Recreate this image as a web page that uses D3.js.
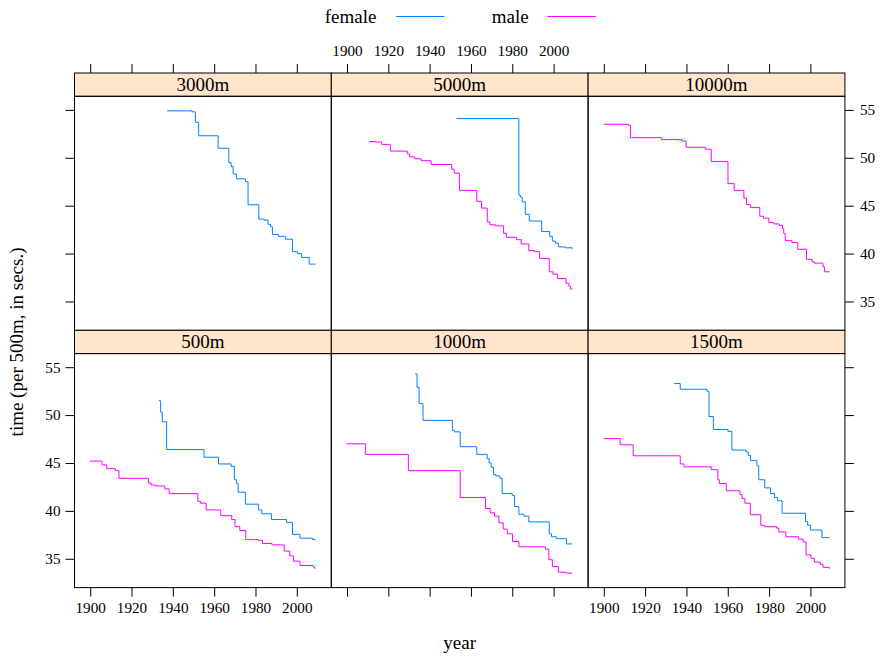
<!DOCTYPE html>
<html>
<head>
<meta charset="utf-8">
<script src="https://cdn.jsdelivr.net/npm/d3@7"></script>
<style>
  body { margin: 0; background: #fff; }
  svg { display: block; }
  text { font-family: "Liberation Serif", "Times New Roman", serif; fill: #000; }
</style>
</head>
<body>
<svg id="chart" width="886" height="658"></svg>
<script>
// Speed skating world records, expressed as time per 500m (seconds)
const distancesTopRow = ["3000m", "5000m", "10000m"];
const distancesBottomRow = ["500m", "1000m", "1500m"];
const genders = ["female", "male"];
const genderColors = ["#0080ff", "#ff00ff"];
const yearTicks = [1900, 1920, 1940, 1960, 1980, 2000];
const timeTicks = [35, 40, 45, 50, 55];

const f500Years = [1933.2, 1934.1, 1934.9, 1937.0, 1955.1, 1962.1, 1968.2, 1969.8, 1970.8, 1971.6, 1975.1, 1981.5, 1983.1, 1987.7, 1995.0, 1997.9, 2001.5, 2007.6, 2009.1];
const f500Times = [51.5, 50.3, 49.3, 46.4, 45.6, 44.9, 44.65, 43.25, 42.85, 41.95, 40.7, 40.1, 39.7, 39.1, 38.8, 37.55, 37.15, 37.0, 37.0];
const m500Years = [1899.9, 1905.7, 1908.0, 1912.2, 1913.9, 1928.2, 1929.5, 1931.6, 1936.1, 1938.2, 1952.1, 1953.4, 1956.1, 1963.2, 1968.5, 1970.1, 1972.4, 1975.3, 1981.6, 1983.4, 1988.0, 1993.9, 1996.6, 1998.4, 2001.5, 2007.9, 2008.7, 2009.1];
const m500Times = [45.2, 44.8, 44.4, 44.2, 43.4, 42.9, 42.7, 42.6, 42.3, 41.8, 41.0, 40.8, 40.1, 39.5, 39.1, 38.35, 37.95, 37.0, 36.9, 36.6, 36.45, 35.8, 35.3, 34.75, 34.3, 34.15, 34.0, 34.0];

const f1000Years = [1933.0, 1933.9, 1934.9, 1936.8, 1951.0, 1952.0, 1954.8, 1962.8, 1967.9, 1968.8, 1969.8, 1970.9, 1972.0, 1974.0, 1975.1, 1980.0, 1981.1, 1983.2, 1985.6, 1988.0, 1997.9, 1999.0, 2001.3, 2006.2, 2009.1];
const f1000Times = [54.3, 52.9, 51.2, 49.45, 48.4, 48.25, 46.7, 45.9, 45.45, 45.0, 44.55, 43.8, 43.65, 43.4, 41.8, 41.6, 40.45, 39.65, 39.45, 38.85, 37.6, 37.3, 37.1, 36.55, 36.55];
const m1000Years = [1899.8, 1908.9, 1929.7, 1954.8, 1967.0, 1969.3, 1971.4, 1973.5, 1975.6, 1977.6, 1980.1, 1983.2, 1996.0, 1997.7, 1999.4, 2002.3, 2006.2, 2009.1];
const m1000Times = [47.0, 45.9, 44.2, 41.4, 40.25, 39.8, 39.45, 38.75, 38.1, 37.6, 36.8, 36.25, 36.0, 34.9, 34.2, 33.6, 33.5, 33.5];

const f1500Years = [1934.1, 1937.0, 1949.9, 1950.9, 1953.0, 1960.1, 1962.0, 1968.8, 1969.9, 1971.0, 1974.1, 1975.0, 1977.9, 1980.7, 1982.6, 1984.1, 1986.3, 1997.6, 1998.7, 2000.0, 2005.6, 2009.2];
const f1500Times = [53.3, 52.7, 52.5, 49.85, 48.5, 48.3, 46.35, 46.15, 45.8, 45.25, 44.7, 43.25, 42.4, 41.8, 41.4, 41.05, 39.75, 38.9, 38.5, 38.0, 37.2, 37.2];
const m1500Years = [1900.0, 1907.9, 1914.2, 1937.0, 1938.8, 1952.0, 1955.2, 1955.9, 1959.3, 1965.9, 1966.9, 1968.3, 1970.9, 1976.0, 1977.8, 1983.6, 1984.7, 1988.1, 1994.2, 1996.5, 1997.9, 2000.3, 2001.9, 2004.8, 2006.1, 2009.2];
const m1500Times = [47.55, 46.9, 45.75, 44.9, 44.6, 44.3, 43.25, 42.85, 42.1, 41.7, 41.3, 40.8, 39.6, 38.5, 38.35, 38.2, 37.8, 37.3, 37.05, 36.75, 35.4, 35.05, 34.65, 34.4, 34.1, 33.95];

const f3000Years = [1937.2, 1949.3, 1950.9, 1952.5, 1961.9, 1967.1, 1968.2, 1969.2, 1970.8, 1975.1, 1976.4, 1981.6, 1984.2, 1986.1, 1987.3, 1988.2, 1991.1, 1994.5, 1997.9, 2000.3, 2002.3, 2006.0, 2009.1];
const f3000Times = [54.9, 54.8, 53.7, 52.3, 51.0, 49.5, 49.1, 48.3, 47.8, 47.5, 45.1, 43.6, 43.5, 43.05, 42.8, 42.0, 41.8, 41.5, 40.2, 40.0, 39.6, 38.9, 38.9];

const f5000Years = [1953.0, 1983.2, 1983.9, 1984.8, 1986.3, 1988.2, 1994.2, 1998.1, 1999.4, 2001.0, 2002.3, 2005.7, 2009.1];
const f5000Times = [54.1, 46.1, 45.9, 45.4, 44.1, 43.4, 42.3, 41.8, 41.3, 41.1, 40.7, 40.6, 40.5];
const m5000Years = [1910.8, 1913.6, 1916.8, 1921.0, 1929.2, 1930.2, 1932.8, 1935.9, 1940.7, 1950.7, 1951.9, 1954.4, 1962.8, 1965.1, 1967.9, 1969.1, 1971.9, 1975.8, 1977.1, 1982.1, 1984.3, 1988.0, 1990.8, 1993.2, 1997.9, 1999.7, 2001.9, 2006.0, 2007.4, 2008.2, 2009.1];
const m5000Times = [51.7, 51.65, 51.4, 50.7, 50.4, 50.1, 49.9, 49.7, 49.3, 48.8, 48.4, 46.6, 45.45, 44.75, 43.3, 43.0, 42.9, 42.1, 41.7, 41.45, 41.0, 40.3, 40.2, 39.5, 38.1, 37.85, 37.4, 36.9, 36.6, 36.3, 36.3];

const m10000Years = [1900.0, 1911.9, 1912.9, 1927.9, 1937.8, 1939.8, 1949.1, 1952.0, 1960.1, 1963.1, 1967.8, 1969.1, 1971.0, 1975.5, 1977.3, 1979.9, 1982.1, 1984.9, 1986.5, 1987.1, 1987.8, 1991.0, 1993.9, 1998.1, 2000.8, 2001.9, 2006.1, 2006.8, 2009.2];
const m10000Times = [53.5, 53.4, 52.1, 51.9, 51.75, 51.1, 50.9, 49.6, 47.3, 46.6, 45.8, 45.1, 44.8, 43.9, 43.7, 43.25, 43.1, 42.95, 42.6, 42.1, 41.35, 41.15, 40.45, 39.4, 39.15, 39.0, 38.6, 38.1, 38.1];

const series = [
  { distance: "500m",   gender: "female", years: f500Years,   times: f500Times },
  { distance: "500m",   gender: "male",   years: m500Years,   times: m500Times },
  { distance: "1000m",  gender: "female", years: f1000Years,  times: f1000Times },
  { distance: "1000m",  gender: "male",   years: m1000Years,  times: m1000Times },
  { distance: "1500m",  gender: "female", years: f1500Years,  times: f1500Times },
  { distance: "1500m",  gender: "male",   years: m1500Years,  times: m1500Times },
  { distance: "3000m",  gender: "female", years: f3000Years,  times: f3000Times },
  { distance: "5000m",  gender: "female", years: f5000Years,  times: f5000Times },
  { distance: "5000m",  gender: "male",   years: m5000Years,  times: m5000Times },
  { distance: "10000m", gender: "male",   years: m10000Years, times: m10000Times }
];

// ---- layout ----
const serif = '"Liberation Serif", "Times New Roman", serif';
const svg = d3.select("#chart");
const left = 74.5, colW = 256.8;
const top0 = 73, stripH = 23.3, panelH = 234;
const tickLen = 9;
const tickFont = "15.2px", mainFont = "19px";
const color = d3.scaleOrdinal().domain(genders).range(genderColors);

const rows = [distancesTopRow, distancesBottomRow];
const panels = [];
rows.forEach((row, r) => {
  row.forEach((dist, c) => {
    const x0 = left + c * colW;
    const stripTop = top0 + r * (stripH + panelH);
    const pTop = stripTop + stripH;
    panels.push({ dist, r, c, x0, stripTop, pTop });
  });
});

function styleAxis(ga) {
  ga.attr("font-family", serif).style("font-family", serif);
  ga.select(".domain").remove();
  ga.selectAll(".tick line").attr("stroke", "#000");
  ga.selectAll("text").style("font-size", tickFont).style("font-family", serif).attr("fill", "#000");
}

panels.forEach(p => {
  const x = d3.scaleLinear().domain([1892.4, 2016.7]).range([p.x0, p.x0 + colW]);
  const y = d3.scaleLinear().domain([31.99, 56.42]).range([p.pTop + panelH, p.pTop]);
  const g = svg.append("g");

  // clip data to the panel
  const clipId = "clip-" + p.dist;
  svg.append("clipPath").attr("id", clipId)
    .append("rect").attr("x", p.x0).attr("y", p.pTop).attr("width", colW).attr("height", panelH);

  // strip
  g.append("rect")
    .attr("x", p.x0).attr("y", p.stripTop).attr("width", colW).attr("height", stripH)
    .attr("fill", "#ffe5cc").attr("stroke", "#000").attr("stroke-width", 1);
  g.append("text")
    .attr("x", p.x0 + colW / 2).attr("y", p.stripTop + stripH / 2 + 6.5)
    .attr("text-anchor", "middle").style("font-size", mainFont).text(p.dist);

  // data lines
  const line = d3.line().curve(d3.curveStepAfter)
    .x(d => x(d[0])).y(d => y(d[1]));
  series.filter(s => s.distance === p.dist).forEach(s => {
    const pts = s.years.map((yr, i) => [yr, s.times[i]]);
    g.append("path").datum(pts)
      .attr("clip-path", `url(#${clipId})`)
      .attr("fill", "none").attr("stroke", color(s.gender)).attr("stroke-width", 1)
      .attr("d", line);
  });

  // panel border
  g.append("rect")
    .attr("x", p.x0).attr("y", p.pTop).attr("width", colW).attr("height", panelH)
    .attr("fill", "none").attr("stroke", "#000").attr("stroke-width", 1);

  // x axes: top of upper row, bottom of lower row
  if (p.r === 0) {
    const showLabels = p.c === 1;
    const ax = d3.axisTop(x).tickValues(yearTicks).tickSize(tickLen).tickSizeOuter(0)
      .tickPadding(8).tickFormat(showLabels ? d3.format("d") : () => "");
    styleAxis(g.append("g").attr("transform", `translate(0,${p.stripTop})`).call(ax));
  } else {
    const showLabels = p.c !== 1;
    const ax = d3.axisBottom(x).tickValues(yearTicks).tickSize(tickLen).tickSizeOuter(0)
      .tickPadding(6).tickFormat(showLabels ? d3.format("d") : () => "");
    styleAxis(g.append("g").attr("transform", `translate(0,${p.pTop + panelH})`).call(ax));
  }

  // y axes: left of first column, right of last column
  if (p.c === 0) {
    const showLabels = p.r === 1;
    const ay = d3.axisLeft(y).tickValues(timeTicks).tickSize(tickLen).tickSizeOuter(0)
      .tickPadding(5).tickFormat(showLabels ? d3.format("d") : () => "");
    styleAxis(g.append("g").attr("transform", `translate(${p.x0},0)`).call(ay));
  }
  if (p.c === 2) {
    const showLabels = p.r === 0;
    const ay = d3.axisRight(y).tickValues(timeTicks).tickSize(tickLen).tickSizeOuter(0)
      .tickPadding(6).tickFormat(showLabels ? d3.format("d") : () => "");
    styleAxis(g.append("g").attr("transform", `translate(${p.x0 + colW},0)`).call(ay));
  }
});

// axis titles
svg.append("text")
  .attr("x", left + 1.5 * colW).attr("y", 649)
  .attr("text-anchor", "middle").style("font-size", mainFont).text("year");
svg.append("text")
  .attr("transform", `translate(23,${top0 + stripH + (2 * panelH + stripH) / 2})rotate(-90)`)
  .attr("text-anchor", "middle").style("font-size", mainFont)
  .text("time (per 500m, in secs.)");

// legend
const legend = svg.append("g");
const legendItems = [
  { gender: "female", tx: 324.7, lx: 396 },
  { gender: "male",   tx: 491.7, lx: 547.3 }
];
legendItems.forEach(it => {
  legend.append("text").attr("x", it.tx).attr("y", 23)
    .style("font-size", mainFont).text(it.gender);
  legend.append("line")
    .attr("x1", it.lx).attr("x2", it.lx + 48.5).attr("y1", 16.5).attr("y2", 16.5)
    .attr("stroke", color(it.gender)).attr("stroke-width", 1);
});
</script>
</body>
</html>
